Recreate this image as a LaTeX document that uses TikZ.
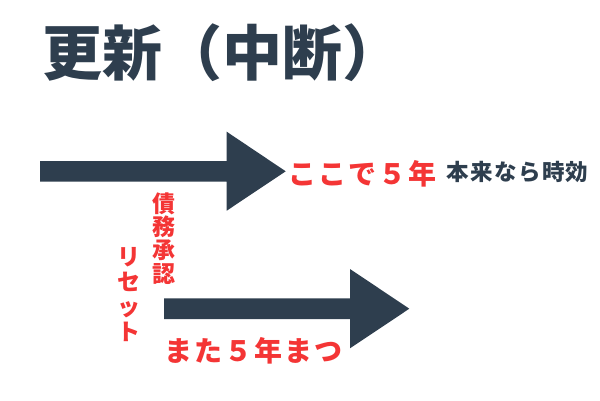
\documentclass[tikz,border=0pt]{standalone}
\usepackage{fontspec}
\newfontfamily\jp{Noto Sans CJK JP}
\newfontfamily\jpsp{Noto Sans CJK JP}[LetterSpace=7]
\definecolor{slate}{HTML}{2E3E4E}
\definecolor{alert}{HTML}{F43535}
\begin{document}
\begin{tikzpicture}[x=1pt,y=-1pt,
  bigarrow/.style={fill=slate,draw=none},
  title/.style={inner sep=0pt,anchor=west,text=slate,font=\jp\bfseries\fontsize{60}{60}\selectfont},
  redtxt/.style={inner sep=0pt,anchor=west,text=alert,font=\jpsp\bfseries\fontsize{28}{28}\selectfont},
  darktxt/.style={inner sep=0pt,anchor=west,text=slate,font=\jp\bfseries\addfontfeature{LetterSpace=6}\fontsize{22.5}{22.5}\selectfont},
  vert/.style={inner sep=0pt,align=center,text=alert,font=\jp\bfseries\fontsize{23}{23.3}\selectfont}]
\useasboundingbox[fill=white] (0,0) rectangle (600,400);
% title
\node[title] (title) at (42,53) {更新（中断）};
% arrow 1
\path[bigarrow] (40,161) -- (226.7,161) -- (226.7,131.7) -- (285.7,171.3)
  -- (226.7,210.7) -- (226.7,181.7) -- (40,181.7) -- cycle;
% arrow 2
\path[bigarrow] (164,298.3) -- (350,298.3) -- (350,269) -- (409.3,308.7)
  -- (350,348.3) -- (350,319) -- (164,319) -- cycle;
% texts
\node[redtxt] (here) at (288.5,173.3) {ここで５年};
\node[darktxt] (orig) at (446.5,172.3) {本来なら時効};
\node[redtxt] (again) at (164.5,351) {また５年まつ};
\node[vert] (ack) at (164,238.5) {債\\務\\承\\認};
\node[vert,font=\jp\bfseries\fontsize{23}{25}\selectfont] (reset) at (129,295) {リ\\セ\\ッ\\ト};
\end{tikzpicture}
\end{document}
